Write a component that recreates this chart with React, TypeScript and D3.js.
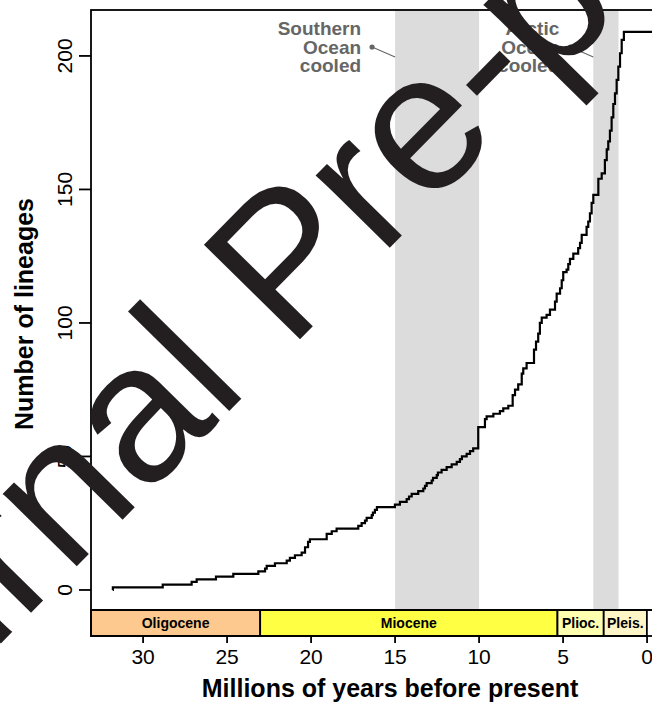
import React from 'react';
import * as d3 from 'd3';

const W = 652;
const H = 702;

// lineage-through-time curve (Ma before present, lineages)
const stepAges = [
  31.81, 31.8, 28.83, 27.11, 26.81, 25.66, 24.63, 23.14, 22.74, 22.64, 22.15, 21.45, 21.26,
  20.96, 20.56, 20.36, 20.18, 20.07, 19.07, 18.77, 18.48, 17.19, 16.99, 16.79, 16.69, 16.39,
  16.32, 16.2, 16.08, 15.01, 14.71, 14.31, 14.17, 14.01, 13.62, 13.32, 13.22, 13.12, 12.82,
  12.74, 12.52, 12.45, 12.23, 11.93, 11.63, 11.33, 11.14, 11.02, 10.74, 10.54, 10.35, 10.05,
  9.65, 9.55, 9.15, 8.76, 8.56, 8.26, 8.0, 7.86, 7.67, 7.46, 7.37, 7.17, 6.73, 6.61, 6.48,
  6.38, 6.27, 5.98, 5.78, 5.48, 5.38, 5.18, 5.08, 4.99, 4.79, 4.69, 4.59, 4.39, 4.1, 3.99,
  3.89, 3.6, 3.5, 3.4, 3.3, 3.2, 2.9, 2.7, 2.51, 2.4, 2.31, 2.21, 2.11, 2.01, 1.91, 1.81,
  1.71, 1.61, 1.51, 1.38, -0.77,
];
const stepCounts = [
  0, 1, 2, 3, 4, 5, 6, 7, 8, 9, 10, 11, 12,
  13, 14, 16, 18, 19, 21, 22, 23, 24, 25, 26, 27, 28,
  29, 30, 31, 32, 33, 34, 35, 36, 37, 38, 39, 40, 41,
  42, 43, 44, 45, 46, 47, 48, 49, 50, 51, 52, 53, 61,
  64, 65, 66, 67, 68, 69, 73, 75, 77, 81, 83, 85, 90, 93, 96,
  100, 102, 103, 105, 108, 111, 113, 116, 119, 120, 122, 124, 126, 128, 130,
  133, 136, 138, 141, 145, 148, 154, 156, 161, 165, 168, 172, 177, 182, 186, 191,
  196, 201, 206, 209, 209,
];

const epochNames = ['Oligocene', 'Miocene', 'Plioc.', 'Pleis.'];
const epochStarts = [33.9, 23.03, 5.333, 2.58];
const epochEnds = [23.03, 5.333, 2.58, 0.0117];
const epochColors = ['#fdc98e', '#ffff44', '#ffffb0', '#fff6c8'];

const coolingLabels = [
  ['Southern', 'Ocean', 'cooled'],
  ['Arctic', 'Ocean', 'cooled'],
];
const coolingStart = [15, 3.2];
const coolingEnd = [10, 1.7];

const xTicks = [30, 25, 20, 15, 10, 5, 0];
const yTicks = [0, 50, 100, 150, 200];

const FONT = '"Liberation Sans", Arial, Helvetica, sans-serif';

export default function App() {
  const left = 91, right = 660, top = 10, plotBottom = 610, barBottom = 636;

  const x = d3.scaleLinear().domain([33.1, -0.77]).range([left, right]);
  const y = d3.scaleLinear().domain([-7.5, 217.2]).range([plotBottom, top]);

  const pts: [number, number][] = stepAges.map((a, i) => [a, stepCounts[i]]);
  const line = d3
    .line<[number, number]>()
    .x(d => x(d[0]))
    .y(d => y(d[1]))
    .curve(d3.curveStepAfter);

  const clipX = (a: number) => Math.max(left, x(a));

  return (
    <svg
      width={W}
      height={H}
      style={{ position: 'absolute', left: 0, top: 0, background: '#fff' }}
      fontFamily={FONT}
    >
      {/* cooling periods */}
      {coolingStart.map((s, i) => (
        <rect
          key={'band' + i}
          x={x(s)}
          y={top}
          width={x(coolingEnd[i]) - x(s)}
          height={plotBottom - top}
          fill="#dcdcdc"
        />
      ))}

      {/* annotations */}
      {coolingLabels.map((lines, i) => {
        const bx = x(coolingStart[i]);
        return (
          <g key={'ann' + i} fill="#666" fontWeight="bold" fontSize={19}>
            {lines.map((t, j) => (
              <text key={j} x={bx - 34} y={35 + j * 18.5} textAnchor="end">
                {t}
              </text>
            ))}
            <circle cx={bx - 23} cy={47} r={2.6} fill="#666" />
            <line x1={bx - 23} y1={47} x2={bx} y2={57} stroke="#666" strokeWidth={1.1} />
          </g>
        );
      })}

      {/* ltt curve */}
      <path d={line(pts) || ''} fill="none" stroke="#000" strokeWidth={2.2} strokeLinejoin="miter" />

      {/* time scale */}
      {epochNames.map((n, i) => {
        const x0 = clipX(epochStarts[i]);
        const x1 = x(epochEnds[i]);
        return (
          <g key={n}>
            <rect
              x={x0}
              y={plotBottom}
              width={x1 - x0}
              height={barBottom - plotBottom}
              fill={epochColors[i]}
              stroke="#000"
              strokeWidth={1.8}
            />
            <text
              x={(x0 + x1) / 2}
              y={628}
              textAnchor="middle"
              fontSize={14}
              fontWeight="bold"
            >
              {n}
            </text>
          </g>
        );
      })}

      {/* frame */}
      <rect x={left} y={top} width={right - left} height={barBottom - top} fill="none" stroke="#000" strokeWidth={1.8} />
      <line x1={left} x2={right} y1={plotBottom} y2={plotBottom} stroke="#000" strokeWidth={1.8} />

      {/* x axis */}
      {xTicks.map(t => (
        <g key={'xt' + t}>
          <line x1={x(t)} x2={x(t)} y1={barBottom} y2={643} stroke="#000" strokeWidth={1.8} />
          <text x={x(t)} y={664} textAnchor="middle" fontSize={21}>
            {t}
          </text>
        </g>
      ))}
      <text x={390} y={697} textAnchor="middle" fontSize={25} fontWeight="bold">
        Millions of years before present
      </text>

      {/* y axis */}
      {yTicks.map(v => (
        <g key={'yt' + v}>
          <line x1={79} x2={left} y1={y(v)} y2={y(v)} stroke="#000" strokeWidth={1.8} />
          <text transform={`translate(72,${y(v)}) rotate(-90)`} textAnchor="middle" fontSize={21}>
            {v}
          </text>
        </g>
      ))}
      <text transform="translate(33,314) rotate(-90)" textAnchor="middle" fontSize={25} fontWeight="bold">
        Number of lineages
      </text>

      {/* watermark */}
      <text
        transform="translate(-200,848) rotate(-45.5)"
        fontSize={196}
        fill="#231f20"
        fontFamily={FONT}
      >
        Journal Pre-proof
      </text>
    </svg>
  );
}
